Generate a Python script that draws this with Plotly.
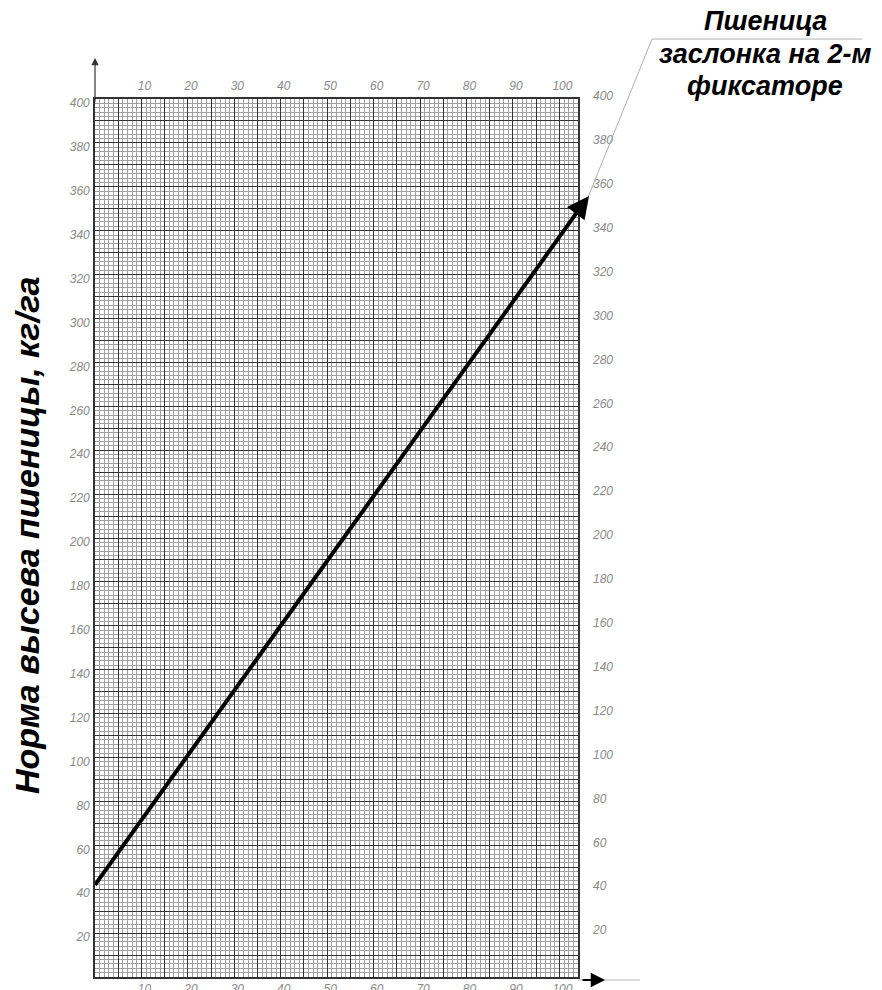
import plotly.graph_objects as go

# ---- data ----
line_x = [0, 104]          # feed opening scale
line_y = [42, 349]         # seeding rate, kg/ha

x_range = [0, 104]
y_range = [0, 400]

x_tick_vals = [10, 20, 30, 40, 50, 60, 70, 80, 90, 100]
x_tick_text = ["10", "20", "30", "40", "50", "60", "70", "80", "90", "100"]
y_tick_vals = [20, 40, 60, 80, 100, 120, 140, 160, 180, 200,
               220, 240, 260, 280, 300, 320, 340, 360, 380, 400]
y_tick_text = ["20", "40", "60", "80", "100", "120", "140", "160", "180", "200",
               "220", "240", "260", "280", "300", "320", "340", "360", "380", "400"]

x_major_grid = [0, 5, 10, 15, 20, 25, 30, 35, 40, 45, 50, 55, 60, 65, 70, 75,
                80, 85, 90, 95, 100]
y_major_grid = [0, 10, 20, 30, 40, 50, 60, 70, 80, 90, 100, 110, 120, 130, 140,
                150, 160, 170, 180, 190, 200, 210, 220, 230, 240, 250, 260, 270,
                280, 290, 300, 310, 320, 330, 340, 350, 360, 370, 380, 390, 400]

y_title = "Норма высева пшеницы, кг/га"
label_lines = ["Пшеница", "заслонка на 2-м", "фиксаторе"]

# ---- styles ----
MAJOR = "#333333"
MINOR = "#a0a0a0"
TICK_FONT = dict(family="Liberation Sans Narrow, Liberation Sans, Arial", size=12,
                 color="#8a8a8a", style="italic")
BOLD_FONT = "Liberation Sans, Arial"

fig = go.Figure()

# invisible trace to activate the secondary (top / right) axes
fig.add_trace(go.Scatter(x=line_x, y=line_y, xaxis="x2", yaxis="y2",
                         mode="lines", line=dict(width=0), hoverinfo="skip",
                         showlegend=False))
# invisible trace carrying the graph-paper grid axes
fig.add_trace(go.Scatter(x=line_x, y=line_y, xaxis="x3", yaxis="y3",
                         mode="lines", line=dict(width=0), hoverinfo="skip",
                         showlegend=False))

fig.add_trace(go.Scatter(x=line_x, y=line_y, mode="lines",
                         line=dict(color="black", width=4),
                         showlegend=False))

grid_common = dict(showgrid=True, gridcolor=MAJOR, gridwidth=1.4,
                   zeroline=False, ticks="")

fig.update_layout(
    width=874, height=982,
    margin=dict(l=87, r=304, t=91, b=13, autoexpand=False),
    paper_bgcolor="white", plot_bgcolor="white",
    xaxis=dict(range=x_range, tickmode="array", tickvals=x_tick_vals, ticktext=x_tick_text,
               tickfont=TICK_FONT, ticklabelstandoff=0, ticklabelshift=3,
               showgrid=False, zeroline=False, ticks="",
               showline=True, linecolor=MAJOR, linewidth=1.6, mirror=True,
               automargin=False),
    yaxis=dict(range=y_range, tickmode="array", tickvals=y_tick_vals, ticktext=y_tick_text,
               tickfont=TICK_FONT, ticklabelstandoff=1, ticklabelshift=4,
               showgrid=False, zeroline=False, ticks="",
               showline=True, linecolor=MAJOR, linewidth=1.6, mirror=True,
               automargin=False),
    xaxis2=dict(range=x_range, overlaying="x", side="top", anchor="y",
                tickmode="array", tickvals=x_tick_vals, ticktext=x_tick_text,
                tickfont=TICK_FONT, ticklabelstandoff=6, ticklabelshift=3,
                showgrid=False, zeroline=False, ticks="", automargin=False),
    yaxis2=dict(range=y_range, overlaying="y", side="right", anchor="x",
                tickmode="array", tickvals=y_tick_vals, ticktext=y_tick_text,
                tickfont=TICK_FONT, ticklabelstandoff=14, ticklabelshift=-3,
                showgrid=False, zeroline=False, ticks="", automargin=False),
    xaxis3=dict(range=x_range, overlaying="x", anchor="y3", tickmode="array",
                tickvals=x_major_grid, showticklabels=False, **grid_common,
                minor=dict(tickmode="linear", tick0=0, dtick=1, showgrid=True,
                           gridcolor=MINOR, gridwidth=1, ticks="")),
    yaxis3=dict(range=y_range, overlaying="y", anchor="x3", tickmode="array",
                tickvals=y_major_grid, showticklabels=False, **grid_common,
                minor=dict(tickmode="linear", tick0=0, dtick=2, showgrid=True,
                           gridcolor=MINOR, gridwidth=1, ticks="")),
)

# arrowhead at end of the line, continuing the line's direction
fig.add_annotation(x=line_x[-1], y=line_y[-1], xref="x", yref="y",
                   xshift=11, yshift=15, ax=-12, ay=16, axref="pixel", ayref="pixel",
                   showarrow=True, arrowhead=2, arrowsize=1.1, arrowwidth=4,
                   arrowcolor="black", text="", standoff=0)

# y-axis arrow (up)
fig.add_annotation(x=0, y=1.0467, xref="paper", yref="paper", ax=0, ay=45,
                   showarrow=True, arrowhead=2, arrowsize=1.2, arrowwidth=1.2,
                   arrowcolor="#333", text="")
# x-axis arrow (right)
fig.add_shape(type="line", xref="paper", yref="paper", x0=1.0, x1=1.1284,
              y0=-0.0034, y1=-0.0034, line=dict(color="#bbbbbb", width=1))
fig.add_annotation(x=1.056, y=-0.0034, xref="paper", yref="paper", ax=-24, ay=0,
                   showarrow=True, arrowhead=2, arrowsize=1.3, arrowwidth=2.2,
                   arrowcolor="black", text="")

# leader line to label
fig.add_shape(type="line", xref="paper", yref="paper", x0=1.0207, y0=0.888,
              x1=1.1532, y1=1.0683, line=dict(color="#b0b0b0", width=1))
fig.add_shape(type="line", xref="paper", yref="paper", x0=1.1532, y0=1.0683,
              x1=1.588, y1=1.0683, line=dict(color="#b0b0b0", width=1))

for txt, py in zip(label_lines, [21, 54, 86]):
    fig.add_annotation(x=(765 - 95) / 483, y=(977 - py) / 878, xref="paper", yref="paper",
                       text="<b><i>" + txt + "</i></b>", showarrow=False,
                       xanchor="center", yanchor="middle",
                       font=dict(family=BOLD_FONT, size=27, color="black"))

fig.add_annotation(x=0, y=(977 - 535) / 878, xref="paper", yref="paper", xshift=-68,
                   text="<b><i>" + y_title + "</i></b>", textangle=-90, showarrow=False,
                   xanchor="center", yanchor="middle",
                   font=dict(family=BOLD_FONT, size=34, color="black"))

fig.write_html("out.html")
